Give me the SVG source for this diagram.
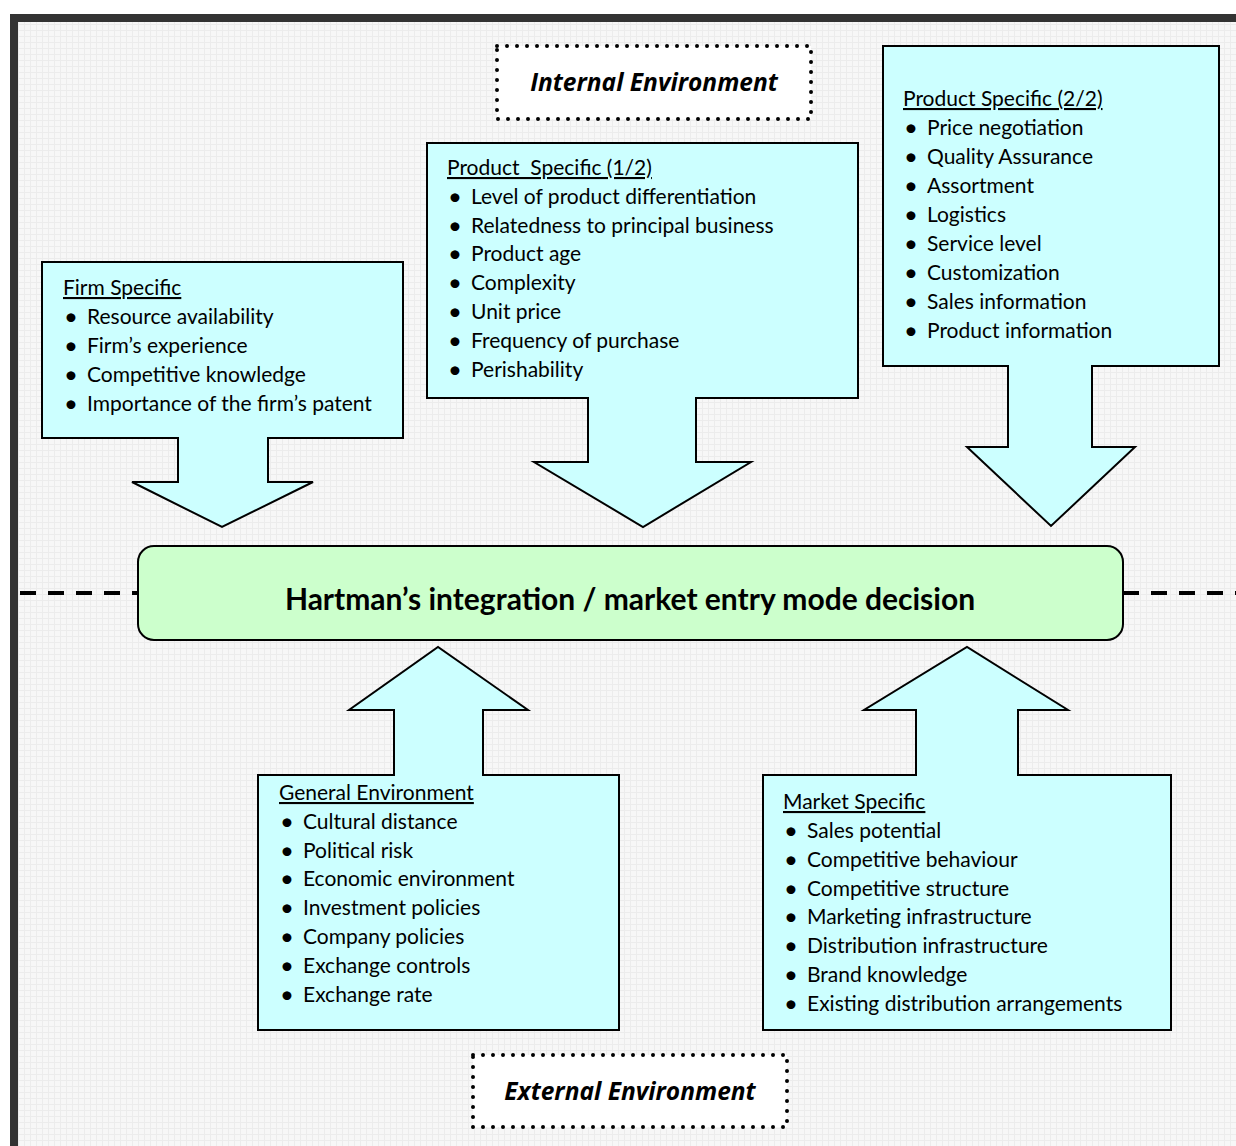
<svg xmlns="http://www.w3.org/2000/svg" width="1236" height="1146" viewBox="0 0 1236 1146">
<defs>
<pattern id="grid" width="6" height="6" patternUnits="userSpaceOnUse">
<rect width="6" height="6" fill="#f7f7f7"/>
<path d="M0 0.5H6M0.5 0V6" stroke="#ececec" stroke-width="1"/>
</pattern>
<style>
.box{fill:#ccffff;stroke:#000;stroke-width:2;stroke-linejoin:miter}
.t{font-family:Lato,"Open Sans",sans-serif;font-size:21px;fill:#000}
.b{font-family:Lato,"Open Sans",sans-serif;font-size:24px;fill:#000}
.h{text-decoration:underline}
.lbl{font-family:"Open Sans",Lato,sans-serif;font-size:24.5px;font-weight:bold;font-style:italic;fill:#000}
.dot{fill:#fff;stroke:#000;stroke-width:4;stroke-dasharray:0 10;stroke-linecap:round}
.dash{stroke:#000;stroke-width:4;stroke-dasharray:16 12}
</style>
</defs>
<rect width="1236" height="1146" fill="#fff"/>
<rect x="10" y="14" width="1226" height="1132" fill="#333"/>
<rect x="18" y="22" width="1218" height="1124" fill="url(#grid)"/>

<g id="connectors">
<line class="dash" x1="20" y1="593" x2="138" y2="593"/>
<line class="dash" x1="1123" y1="593" x2="1236" y2="593"/>
</g>

<g id="internal-label">
<rect class="dot" x="497" y="46" width="314" height="73"/>
<text class="lbl" x="654" y="91" text-anchor="middle">Internal Environment</text>
</g>

<g id="firm-specific">
<path class="box" d="M42 262H403V438H268V482H313L222 527L132 482H178V438H42Z"/>
<text class="t h" x="63" y="295">Firm Specific</text>
<text class="b" x="64" y="325">•</text><text class="t" x="87" y="324">Resource availability</text>
<text class="b" x="64" y="354">•</text><text class="t" x="87" y="353">Firm’s experience</text>
<text class="b" x="64" y="383">•</text><text class="t" x="87" y="382">Competitive knowledge</text>
<text class="b" x="64" y="412">•</text><text class="t" x="87" y="411">Importance of the firm’s patent</text>
</g>

<g id="product-specific-1">
<path class="box" d="M427 143H858V398H696V462H751L643 527L534 462H588V398H427Z"/>
<text class="t h" x="447" y="175" xml:space="preserve">Product  Specific (1/2)</text>
<text class="b" x="448" y="205">•</text><text class="t" x="471" y="204">Level of product differentiation</text>
<text class="b" x="448" y="234">•</text><text class="t" x="471" y="233">Relatedness to principal business</text>
<text class="b" x="448" y="262">•</text><text class="t" x="471" y="261">Product age</text>
<text class="b" x="448" y="291">•</text><text class="t" x="471" y="290">Complexity</text>
<text class="b" x="448" y="320">•</text><text class="t" x="471" y="319">Unit price</text>
<text class="b" x="448" y="349">•</text><text class="t" x="471" y="348">Frequency of purchase</text>
<text class="b" x="448" y="378">•</text><text class="t" x="471" y="377">Perishability</text>
</g>

<g id="product-specific-2">
<path class="box" d="M883 46H1219V366H1092V447H1135L1051 526L967 447H1008V366H883Z"/>
<text class="t h" x="903" y="106">Product Specific (2/2)</text>
<text class="b" x="904" y="136">•</text><text class="t" x="927" y="135">Price negotiation</text>
<text class="b" x="904" y="165">•</text><text class="t" x="927" y="164">Quality Assurance</text>
<text class="b" x="904" y="194">•</text><text class="t" x="927" y="193">Assortment</text>
<text class="b" x="904" y="223">•</text><text class="t" x="927" y="222">Logistics</text>
<text class="b" x="904" y="252">•</text><text class="t" x="927" y="251">Service level</text>
<text class="b" x="904" y="281">•</text><text class="t" x="927" y="280">Customization</text>
<text class="b" x="904" y="310">•</text><text class="t" x="927" y="309">Sales information</text>
<text class="b" x="904" y="339">•</text><text class="t" x="927" y="338">Product information</text>
</g>

<g id="decision">
<rect x="138" y="546" width="985" height="94" rx="16" fill="#ccffcc" stroke="#000" stroke-width="2"/>
<text x="630" y="610" text-anchor="middle" font-family="Lato,'Open Sans',sans-serif" font-size="30" font-weight="bold">Hartman’s integration / market entry mode decision</text>
</g>

<g id="general-environment">
<path class="box" d="M258 775H394V710H349L438 647L528 710H483V775H619V1030H258Z"/>
<text class="t h" x="279" y="800">General Environment</text>
<text class="b" x="280" y="830">•</text><text class="t" x="303" y="829">Cultural distance</text>
<text class="b" x="280" y="859">•</text><text class="t" x="303" y="858">Political risk</text>
<text class="b" x="280" y="887">•</text><text class="t" x="303" y="886">Economic environment</text>
<text class="b" x="280" y="916">•</text><text class="t" x="303" y="915">Investment policies</text>
<text class="b" x="280" y="945">•</text><text class="t" x="303" y="944">Company policies</text>
<text class="b" x="280" y="974">•</text><text class="t" x="303" y="973">Exchange controls</text>
<text class="b" x="280" y="1003">•</text><text class="t" x="303" y="1002">Exchange rate</text>
</g>

<g id="market-specific">
<path class="box" d="M763 775H916V710H864L967 647L1068 710H1018V775H1171V1030H763Z"/>
<text class="t h" x="783" y="809">Market Specific</text>
<text class="b" x="784" y="839">•</text><text class="t" x="807" y="838">Sales potential</text>
<text class="b" x="784" y="868">•</text><text class="t" x="807" y="867">Competitive behaviour</text>
<text class="b" x="784" y="897">•</text><text class="t" x="807" y="896">Competitive structure</text>
<text class="b" x="784" y="925">•</text><text class="t" x="807" y="924">Marketing infrastructure</text>
<text class="b" x="784" y="954">•</text><text class="t" x="807" y="953">Distribution infrastructure</text>
<text class="b" x="784" y="983">•</text><text class="t" x="807" y="982">Brand knowledge</text>
<text class="b" x="784" y="1012">•</text><text class="t" x="807" y="1011">Existing distribution arrangements</text>
</g>

<g id="external-label">
<rect class="dot" x="473" y="1055" width="314" height="72"/>
<text class="lbl" x="630" y="1100" text-anchor="middle">External Environment</text>
</g>
</svg>
